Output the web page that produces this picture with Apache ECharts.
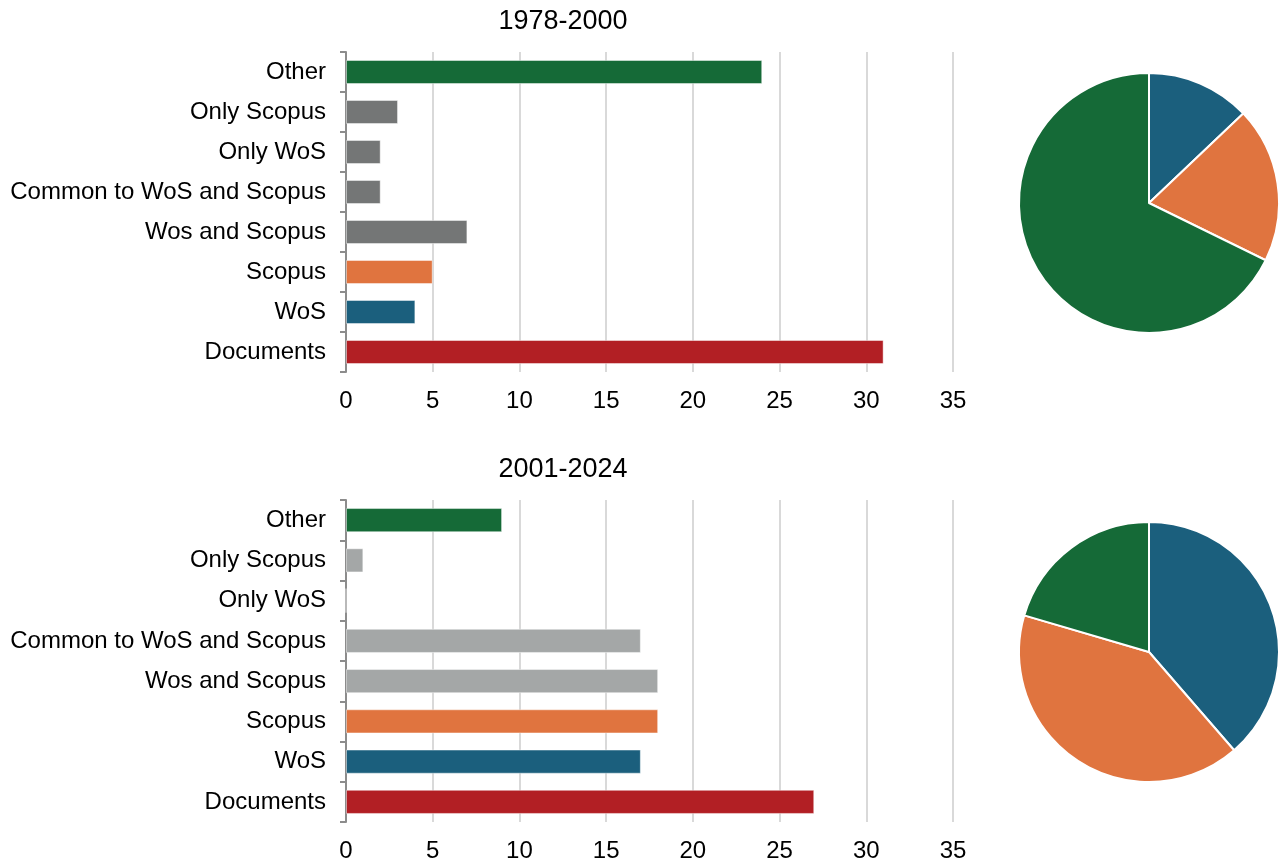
<!DOCTYPE html>
<html>
<head>
<meta charset="utf-8">
<script src="https://cdn.jsdelivr.net/npm/echarts@6/dist/echarts.min.js"></script>
<style>
html,body{margin:0;padding:0;background:#fff;}
#c{width:1282px;height:863px;}
</style>
</head>
<body>
<div id="c"></div>
<script>
var categories = ['Other', 'Only Scopus', 'Only WoS', 'Common to WoS and Scopus', 'Wos and Scopus', 'Scopus', 'WoS', 'Documents'];
var titles = ['1978-2000', '2001-2024'];
var values1 = [24, 3, 2, 2, 7, 5, 4, 31];
var values2 = [9, 1, 0, 17, 18, 18, 17, 27];
var pieNames = ['WoS', 'Scopus', 'Other'];
var pieValues1 = [4, 6, 21];
var pieValues2 = [17, 18, 9];
var xTicks = [0, 5, 10, 15, 20, 25, 30, 35];

var GREEN = '#156a37', ORANGE = '#e0743f', BLUE = '#1b5f7d', RED = '#b21f24';
var barColors1 = [GREEN, '#747676', '#747676', '#747676', '#747676', ORANGE, BLUE, RED];
var barColors2 = [GREEN, '#a4a7a7', '#a4a7a7', '#a4a7a7', '#a4a7a7', ORANGE, BLUE, RED];
var pieColors = [BLUE, ORANGE, GREEN];

var FONT = 'Liberation Sans, Arial, Helvetica, sans-serif';
var chart = echarts.init(document.getElementById('c'), null, {renderer: 'canvas'});

function xAxis(gi) {
  return {
    type: 'value', gridIndex: gi, min: xTicks[0], max: xTicks[xTicks.length - 1], interval: 5,
    axisLine: {show: false}, axisTick: {show: false},
    axisLabel: {color: '#000', fontSize: 24, fontFamily: FONT, margin: 17},
    splitLine: {show: true, lineStyle: {color: '#d9d9d9', width: 2}}
  };
}
function yAxis(gi) {
  return {
    type: 'category', gridIndex: gi, data: categories, inverse: true,
    axisLine: {show: true, lineStyle: {color: '#8c8c8c', width: 2}},
    axisTick: {show: true, length: 6, lineStyle: {color: '#8c8c8c', width: 2}},
    axisLabel: {color: '#000', fontSize: 24, fontFamily: FONT, margin: 20}
  };
}
function barSeries(gi, vals, cols) {
  return {
    type: 'bar', xAxisIndex: gi, yAxisIndex: gi, data: vals, barCategoryGap: '40%',
    itemStyle: {
      color: function (p) { return cols[p.dataIndex]; },
      borderColor: 'rgba(255,255,255,0.45)', borderWidth: 1
    },
    silent: true, animation: false
  };
}
function pieSeries(vals, cy) {
  return {
    type: 'pie', center: [1149, cy], radius: [0, 130], startAngle: 90, clockwise: true,
    data: pieNames.map(function (n, i) { return {name: n, value: vals[i], itemStyle: {color: pieColors[i]}}; }),
    label: {show: false}, labelLine: {show: false},
    itemStyle: {borderColor: '#fff', borderWidth: 2},
    silent: true, animation: false
  };
}

chart.setOption({
  backgroundColor: '#fff',
  animation: false,
  title: [
    {text: titles[0], left: 558, top: 3, textAlign: 'center', textStyle: {fontSize: 27, fontWeight: 'normal', color: '#000', fontFamily: FONT}},
    {text: titles[1], left: 558, top: 451, textAlign: 'center', textStyle: {fontSize: 27, fontWeight: 'normal', color: '#000', fontFamily: FONT}}
  ],
  grid: [
    {left: 346, top: 52, width: 607, height: 320, containLabel: false},
    {left: 346, top: 500, width: 607, height: 322, containLabel: false}
  ],
  xAxis: [xAxis(0), xAxis(1)],
  yAxis: [yAxis(0), yAxis(1)],
  series: [
    barSeries(0, values1, barColors1),
    barSeries(1, values2, barColors2),
    pieSeries(pieValues1, 203),
    pieSeries(pieValues2, 652)
  ]
});
</script>
</body>
</html>
